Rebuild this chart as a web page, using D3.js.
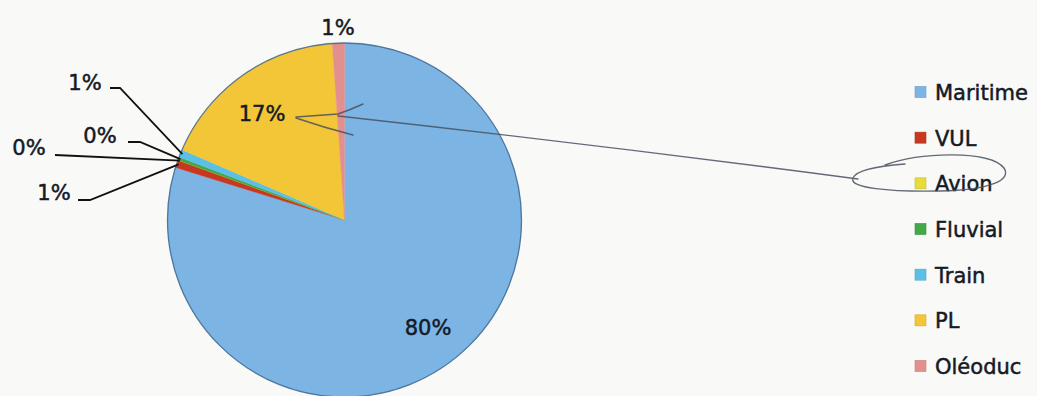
<!DOCTYPE html>
<html><head><meta charset="utf-8">
<script src="https://cdn.jsdelivr.net/npm/d3@7"></script>
<style>
body{margin:0;background:#f9f9f7;}
svg{display:block;}
text{font-family:"DejaVu Sans",Verdana,sans-serif;}
</style></head>
<body>
<svg id="c" width="1037" height="396"></svg>
<script>
// Data
const categories = ["Maritime","VUL","Avion","Fluvial","Train","PL","Oléoduc"];
const shares = [79.8, 0.7, 0.0, 0.3, 0.7, 17.4, 1.1];
const colors = ["#7cb5e4","#c8381f","#e6dc3c","#43a84a","#5cc0e6","#f2c636","#e38f8d"];
// label text anchors (layout only)
const labelLayout = {
  "Maritime": {x:428, y:335, anchor:"middle", leader:null},
  "VUL":      {x:54,  y:200, anchor:"middle", leader:[[78,200],[90,200]]},
  "Avion":    {x:29,  y:155, anchor:"middle", leader:[[55,155]]},
  "Fluvial":  {x:100, y:143, anchor:"middle", leader:[[128,142],[140,142]]},
  "Train":    {x:85,  y:90,  anchor:"middle", leader:[[110,88],[120,88]]},
  "PL":       {x:262, y:121, anchor:"middle", leader:null},
  "Oléoduc":  {x:338, y:35,  anchor:"middle", leader:null}
};

const svg = d3.select("#c");
const cx = 344.5, cy = 220, R = 177;
const data = categories.map((c,i)=>({cat:c, value:shares[i], color:colors[i]}));
const pie = d3.pie().sort(null).value(d=>d.value).startAngle(0).endAngle(2*Math.PI);
const arcs = pie(data);
const arc = d3.arc().innerRadius(0).outerRadius(R);

const g = svg.append("g").attr("transform",`translate(${cx},${cy})`);
g.selectAll("path.slice").data(arcs).enter().append("path")
  .attr("class","slice")
  .attr("d",arc)
  .attr("fill",d=>d.data.color)
  .attr("stroke",d=>d.data.color)
  .attr("stroke-width",0.4);
g.append("circle").attr("r",R).attr("fill","none")
  .attr("stroke","#3f6791").attr("stroke-width",1.3).attr("opacity",0.85);

const fmt = v => Math.round(v) + "%";
const pointOn = (a, r) => [cx + r*Math.sin(a), cy - r*Math.cos(a)];

arcs.forEach(a=>{
  const L = labelLayout[a.data.cat];
  if (L.leader){
    const mid = (a.startAngle + a.endAngle)/2;
    const end = pointOn(mid, R-2);
    const pts = L.leader.concat([end]);
    svg.append("path")
      .attr("d", d3.line()(pts))
      .attr("fill","none").attr("stroke","#111").attr("stroke-width",1.8);
  }
  svg.append("text")
    .attr("x",L.x).attr("y",L.y)
    .attr("text-anchor",L.anchor)
    .attr("font-size",21)
    .attr("fill","#151a26").attr("stroke","#151a26").attr("stroke-width",0.5)
    .text(fmt(a.data.value));
});

// Legend
const legendY = d3.scalePoint().domain(categories).range([92,366]);
const lg = svg.append("g");
categories.forEach((c,i)=>{
  const y = legendY(c);
  lg.append("rect").attr("x",915).attr("y",y-5.5).attr("width",11).attr("height",11)
    .attr("fill",colors[i]).attr("stroke",d3.color(colors[i]).darker(0.4)).attr("stroke-width",0.6);
  lg.append("text").attr("x",935).attr("y",y+8).attr("font-size",21)
    .attr("fill","#151a26").attr("stroke","#151a26").attr("stroke-width",0.5).text(c);
});

// Hand-drawn pen annotations from the scanned page
const pen = svg.append("g").attr("fill","none").attr("stroke","#4b5160")
  .attr("stroke-width",1.4).attr("stroke-linecap","round").attr("opacity",0.85);
pen.append("path").attr("d","M296,117 L338,114 Q350,110 363,104");
pen.append("path").attr("d","M296,118 Q325,128 353,135");
pen.append("path").attr("d","M338,116 Q600,145 858,179");
pen.append("path").attr("d","M885,165 C920,152 990,150 1004,168 C1012,180 990,190 940,191 C890,192 848,188 853,178 C856,170 880,166 905,164");
</script>
</body></html>
